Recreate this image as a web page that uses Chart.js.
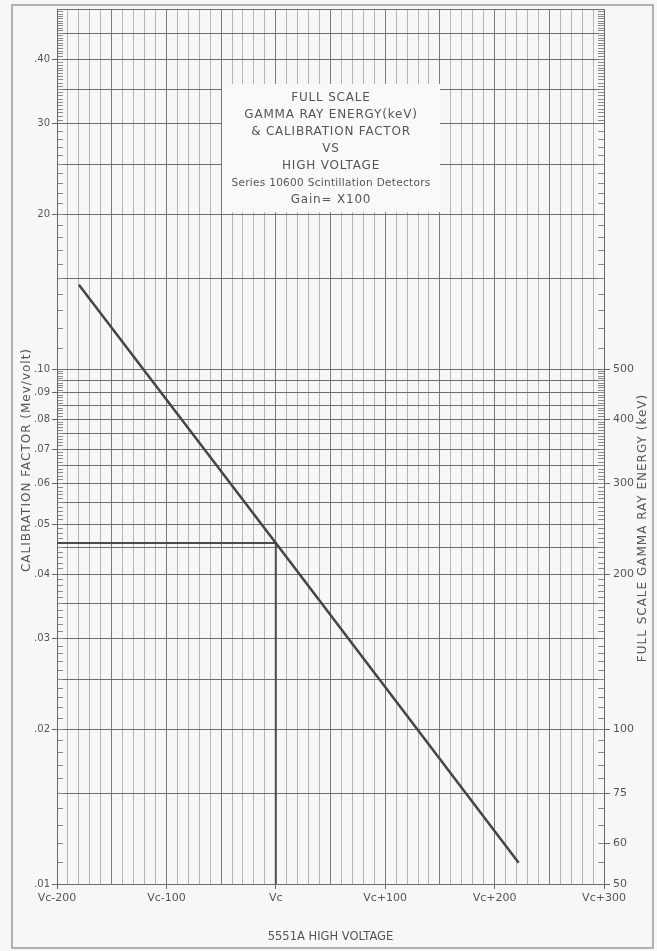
<!DOCTYPE html>
<html>
<head>
<meta charset="utf-8">
<script src="https://cdn.jsdelivr.net/npm/chart.js@4.4.1/dist/chart.umd.min.js"></script>
<style>
  html, body { margin: 0; padding: 0; background: #f7f7f5; }
  canvas { display: block; }
</style>
</head>
<body>
<canvas id="chart" width="657" height="951"></canvas>
<script>
// calibration line (high voltage offset from Vc, calibration factor MeV/volt)
const lineX = [-180, 0, 222];
const lineY = [0.146, 0.046, 0.011];

// worked example: Vc read at 0.046
const guideX = [-200, 0, 0];
const guideY = [0.046, 0.046, 0.01];

// axes
const xLabelValues = [-200, -100, 0, 100, 200, 300];
const xLabelTexts = ["Vc-200", "Vc-100", "Vc", "Vc+100", "Vc+200", "Vc+300"];

const yLabelValues = [0.01, 0.02, 0.03, 0.04, 0.05, 0.06, 0.07, 0.08, 0.09, 0.1, 0.2, 0.3, 0.4];
const yLabelTexts = [".01", ".02", ".03", ".04", ".05", ".06", ".07", ".08", ".09", ".10", "20", "30", ".40"];

const kevValues = [50, 60, 75, 100, 200, 300, 400, 500];
const kevTexts = ["50", "60", "75", "100", "200", "300", "400", "500"];

const boxLines = [
  "FULL SCALE",
  "GAMMA RAY ENERGY(keV)",
  "& CALIBRATION FACTOR",
  "VS",
  "HIGH VOLTAGE",
  "Series 10600 Scintillation Detectors",
  "Gain= X100"
];

const r3 = v => Math.round(v * 10000) / 10000;
const steps = (a, b, s) => {
  const out = [];
  for (let v = a; v <= b + s / 2; v += s) out.push(r3(v));
  return out;
};

const xGridValues = steps(-200, 300, 10);
const yGridValues = steps(0.01, 0.1, 0.005).concat(steps(0.15, 0.5, 0.05));
const yMinorValues = steps(0.011, 0.099, 0.001)
  .concat(steps(0.11, 0.29, 0.01))
  .concat(steps(0.305, 0.495, 0.005));

const ink = "#555";
const near = (a, b) => Math.abs(a - b) < 1e-6;
const labelFor = (vals, texts, v) => {
  const i = vals.findIndex(u => near(u, v));
  return i < 0 ? "" : texts[i];
};

// 白框標題與旋轉的軸標題
const notes = {
  id: "notes",
  beforeDraw(chart) {
    const ctx = chart.ctx;
    ctx.save();
    ctx.fillStyle = "#f7f7f5";
    ctx.fillRect(0, 0, chart.width, chart.height);
    ctx.strokeStyle = "#9a9a9a";
    ctx.lineWidth = 1.5;
    ctx.strokeRect(12, 5, 641, 943);
    ctx.restore();
  },
  beforeDatasetsDraw(chart) {
    const ctx = chart.ctx;
    ctx.save();
    ctx.fillStyle = "#f9f9f8";
    ctx.fillRect(222, 84, 218, 128);
    ctx.fillStyle = ink;
    ctx.textAlign = "center";
    ctx.textBaseline = "middle";
    boxLines.forEach((t, i) => {
      ctx.letterSpacing = i === 5 ? "0.3px" : "0.8px";
      ctx.font = (i === 5 ? "10.5px" : "12px") + " 'DejaVu Sans'";
      ctx.fillText(t, 331, 98 + i * 17);
    });

    ctx.letterSpacing = "1px";
    ctx.font = "12px 'DejaVu Sans'";
    ctx.translate(27, 460);
    ctx.rotate(-Math.PI / 2);
    ctx.fillText("CALIBRATION FACTOR (Mev/volt)", 0, 0);
    ctx.restore();

    ctx.save();
    ctx.fillStyle = ink;
    ctx.textAlign = "center";
    ctx.textBaseline = "middle";
    ctx.letterSpacing = "1px";
    ctx.font = "12px 'DejaVu Sans'";
    ctx.translate(643, 528);
    ctx.rotate(-Math.PI / 2);
    ctx.fillText("FULL SCALE GAMMA RAY ENERGY (keV)", 0, 0);
    ctx.restore();
  }
};

new Chart(document.getElementById("chart"), {
  type: "line",
  data: {
    datasets: [
      {
        data: lineX.map((x, i) => ({ x, y: lineY[i] })),
        borderColor: "#454545",
        borderWidth: 2.5,
        pointRadius: 0,
        tension: 0
      },
      {
        data: guideX.map((x, i) => ({ x, y: guideY[i] })),
        borderColor: "#4c4c4c",
        borderWidth: 2,
        pointRadius: 0,
        tension: 0
      }
    ]
  },
  options: {
    responsive: false,
    animation: false,
    layout: { padding: { top: 6, left: 0, right: 0, bottom: 0 } },
    plugins: { legend: { display: false }, tooltip: { enabled: false } },
    scales: {
      x: {
        type: "linear",
        min: -200,
        max: 300,
        afterBuildTicks: s => { s.ticks = xGridValues.map(v => ({ value: v })); },
        afterFit: s => { s.height = 67; },
        ticks: {
          autoSkip: false,
          maxRotation: 0,
          padding: 3,
          color: ink,
          font: { family: "DejaVu Sans", size: 11 },
          callback: v => labelFor(xLabelValues, xLabelTexts, v)
        },
        grid: {
          color: c => (Math.abs(c.tick.value % 50) < 1e-6 ? "#7a7a7a" : "#b4b4b4"),
          lineWidth: 1,
          tickLength: 5,
          tickColor: c => (labelFor(xLabelValues, xLabelTexts, c.tick.value) ? "#666" : "rgba(0,0,0,0)")
        },
        border: { display: false },
        title: {
          display: true,
          text: "5551A HIGH VOLTAGE",
          color: ink,
          font: { family: "DejaVu Sans", size: 11.5 },
          padding: { top: 0, bottom: 7 }
        }
      },
      y: {
        type: "logarithmic",
        position: "left",
        weight: 1,
        min: 0.01,
        max: 0.5,
        afterBuildTicks: s => { s.ticks = yGridValues.map(v => ({ value: v })); },
        afterFit: s => { s.width = 57; },
        ticks: {
          autoSkip: false,
          padding: 2,
          color: ink,
          font: { family: "DejaVu Sans", size: 10 },
          callback: v => labelFor(yLabelValues, yLabelTexts, v)
        },
        grid: {
          color: "#6e6e6e",
          lineWidth: 1,
          tickLength: 5,
          tickColor: c => (labelFor(yLabelValues, yLabelTexts, c.tick.value) ? "#666" : "rgba(0,0,0,0)")
        },
        border: { display: true, color: "#666", width: 1 }
      },
      yMinor: {
        type: "logarithmic",
        position: "left",
        weight: 0,
        min: 0.01,
        max: 0.5,
        afterBuildTicks: s => { s.ticks = yMinorValues.map(v => ({ value: v })); },
        afterFit: s => { s.width = 0; },
        ticks: { display: false },
        grid: { drawOnChartArea: false, tickLength: -6, tickColor: "#8a8a8a", lineWidth: 1 },
        border: { display: false }
      },
      y2: {
        type: "logarithmic",
        position: "right",
        weight: 1,
        min: 50,
        max: 2500,
        afterBuildTicks: s => { s.ticks = kevValues.map(v => ({ value: v })); },
        afterFit: s => { s.width = 53; },
        ticks: {
          autoSkip: false,
          padding: 3,
          color: ink,
          font: { family: "DejaVu Sans", size: 11 },
          callback: v => labelFor(kevValues, kevTexts, v)
        },
        grid: { drawOnChartArea: false, tickLength: 6, tickColor: "#666" },
        border: { display: true, color: "#666", width: 1 }
      },
      yMinorR: {
        type: "logarithmic",
        position: "right",
        weight: 0,
        min: 0.01,
        max: 0.5,
        afterBuildTicks: s => { s.ticks = yMinorValues.map(v => ({ value: v })); },
        afterFit: s => { s.width = 0; },
        ticks: { display: false },
        grid: { drawOnChartArea: false, tickLength: -6, tickColor: "#8a8a8a", lineWidth: 1 },
        border: { display: false }
      }
    }
  },
  plugins: [notes]
});
</script>
</body>
</html>
